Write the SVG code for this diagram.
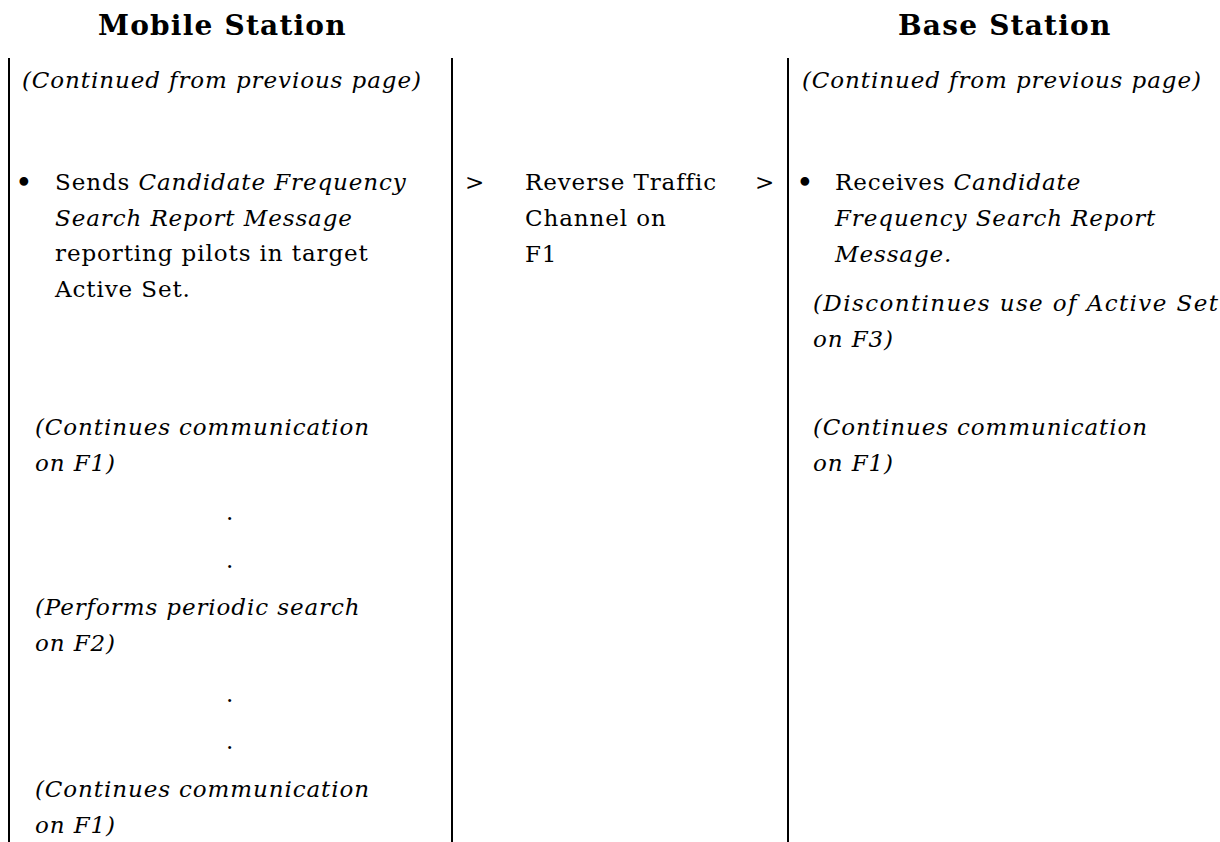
<svg xmlns="http://www.w3.org/2000/svg" width="1220" height="842" viewBox="0 0 1220 842">
<style>
text{font-family:"DejaVu Serif","Liberation Serif",serif;font-size:23px;fill:#000;letter-spacing:0.9px}
.h{font-weight:bold;font-size:28px;letter-spacing:1.2px}
.i{font-style:italic}
.b{font-size:30px;letter-spacing:0}
.sep{stroke:#000;stroke-width:2;fill:none}
</style>
<rect width="1220" height="842" fill="#fff"/>
<g id="headers">
<text class="h" x="98" y="35">Mobile Station</text>
<text class="h" x="898" y="35">Base Station</text>
</g>
<g id="connectors">
<line class="sep" x1="9" y1="58" x2="9" y2="842"/>
<line class="sep" x1="452" y1="58" x2="452" y2="842"/>
<line class="sep" x1="788" y1="58" x2="788" y2="842"/>
</g>
<g id="mobile">
<text class="i" x="22" y="88">(Continued from previous page)</text>
<text class="b" x="15" y="193">•</text>
<text x="55" y="190">Sends <tspan class="i">Candidate Frequency</tspan></text>
<text class="i" x="55" y="226">Search Report Message</text>
<text x="55" y="261">reporting pilots in target</text>
<text x="55" y="297">Active Set.</text>
<text class="i" x="35" y="435">(Continues communication</text>
<text class="i" x="35" y="471">on F1)</text>
<text x="230" y="520" text-anchor="middle">.</text>
<text x="230" y="568" text-anchor="middle">.</text>
<text class="i" x="35" y="615">(Performs periodic search</text>
<text class="i" x="35" y="651">on F2)</text>
<text x="230" y="702" text-anchor="middle">.</text>
<text x="230" y="749" text-anchor="middle">.</text>
<text class="i" x="35" y="797">(Continues communication</text>
<text class="i" x="35" y="833">on F1)</text>
</g>
<g id="channel">
<text x="465" y="190">&gt;</text>
<text x="525" y="190">Reverse Traffic</text>
<text x="755" y="190">&gt;</text>
<text x="525" y="226">Channel on</text>
<text x="525" y="262">F1</text>
</g>
<g id="base">
<text class="i" x="802" y="88">(Continued from previous page)</text>
<text class="b" x="796" y="193">•</text>
<text x="835" y="190">Receives <tspan class="i">Candidate</tspan></text>
<text class="i" x="835" y="226">Frequency Search Report</text>
<text class="i" x="835" y="262">Message.</text>
<text class="i" x="813" y="311" style="letter-spacing:1.4px">(Discontinues use of Active Set</text>
<text class="i" x="813" y="347">on F3)</text>
<text class="i" x="813" y="435">(Continues communication</text>
<text class="i" x="813" y="471">on F1)</text>
</g>
</svg>
